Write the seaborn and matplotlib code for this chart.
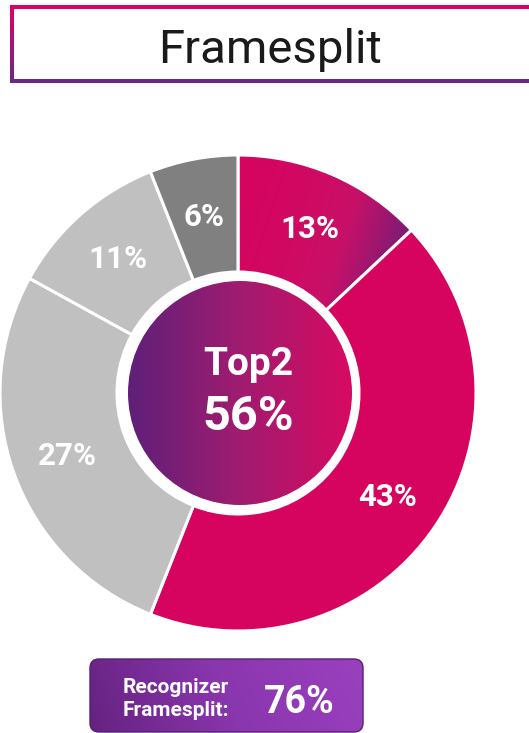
import numpy as np
import matplotlib
matplotlib.use("Agg")
import matplotlib.pyplot as plt
import seaborn as sns
from matplotlib.patches import Circle, FancyBboxPatch
from matplotlib.colors import LinearSegmentedColormap
from matplotlib.collections import LineCollection

# ---------------- data ----------------
title = "Framesplit"
slice_values = [13, 43, 27, 11, 6]
slice_colors = ["#D6045F", "#D6045F", "#C0C0C0", "#C0C0C0", "#808080"]
center_title = "Top2"
center_value = 56
footer_lines = ["Recognizer", "Framesplit:"]
footer_value = 76

PINK = "#D6045F"
PURPLE = "#5E2079"

sns.set_theme(style="white")
plt.rcParams['font.family'] = ['Roboto', 'DejaVu Sans']

W, H = 529, 733
fig = plt.figure(figsize=(W / 100, H / 100), dpi=100)
ax = fig.add_axes([0, 0, 1, 1])


def Y(y):
    return H - y


cx, cy, R = 238, Y(393), 238
hole = 121
wedges, texts, autotexts = ax.pie(
    slice_values, colors=slice_colors, startangle=90, counterclock=False,
    center=(cx, cy), radius=R, autopct=lambda p: f"{p:.0f}%", pctdistance=0.76,
    wedgeprops=dict(width=R - hole, edgecolor="white", linewidth=2.2),
    textprops=dict(color="white", fontsize=22.5, fontweight="bold"))
ax.set_xlim(0, W)
ax.set_ylim(0, H)
ax.set_aspect("equal")
ax.axis("off")
for t in autotexts:
    t.set_zorder(5)
    x, y = t.get_position()
    t.set_position((x, y - 2))

# gradient on first wedge
cm_w = LinearSegmentedColormap.from_list("w", [PINK, "#C81068", "#6A1F78"])
wedges[0].set_facecolor("none")
x0, x1, y0, y1 = 236, 420, Y(312), Y(150)
xs = np.linspace(x0, x1, 300)
ys = np.linspace(y0, y1, 300)
XX, YY = np.meshgrid(xs, ys)
tt = np.clip((XX - 240) / 175 * 0.85 + (Y(155) - YY) / 160 * 0.25, 0, 1) ** 1.5
im = ax.imshow(tt, extent=[x0, x1, y0, y1], origin="lower", cmap=cm_w,
               vmin=0, vmax=1, zorder=0.5, aspect="auto", interpolation="bilinear")
im.set_clip_path(wedges[0])

# center circle with horizontal gradient
ccx, ccy, cr = 240, Y(393), 112
circ = Circle((ccx, ccy), cr, facecolor="none", edgecolor="none", zorder=2)
ax.add_patch(circ)
cm_c = LinearSegmentedColormap.from_list("c", [PURPLE, "#A01C70", "#D80A62"])
g = np.linspace(0, 1, 300)[None, :].repeat(2, axis=0)
imc = ax.imshow(g, extent=[ccx - cr, ccx + cr, ccy - cr, ccy + cr], origin="lower",
                cmap=cm_c, zorder=2, aspect="auto", interpolation="bilinear")
imc.set_clip_path(circ)
ax.text(248, Y(375), center_title, color="white", fontsize=28, fontweight="bold",
        ha="center", va="baseline", zorder=6)
ax.text(248, Y(430), f"{center_value}%", color="white", fontsize=35, fontweight="bold",
        ha="center", va="baseline", zorder=6)

# title box with gradient border
top, bot, left = Y(7), Y(81), 12
lw = 2.9
ax.plot([left - 2, W + 10], [top, top], color="#DC0068", lw=lw, solid_capstyle="butt", zorder=3)
ax.plot([left - 2, W + 10], [bot, bot], color="#6A2A82", lw=lw, solid_capstyle="butt", zorder=3)
n = 60
yy = np.linspace(top, bot, n + 1)
segs = [[(left, yy[i]), (left, yy[i + 1])] for i in range(n)]
cm_b = LinearSegmentedColormap.from_list("b", ["#DC0068", "#6A2A82"])
lc = LineCollection(segs, colors=[cm_b(i / (n - 1)) for i in range(n)], linewidths=lw, zorder=3)
ax.add_collection(lc)
ax.text(270, Y(63), title, color="#1a1a1a", fontsize=34, ha="center", va="baseline")

# footer box
fx0, fx1, fy0, fy1 = 90, 363, Y(732), Y(659)
fb = FancyBboxPatch((fx0, fy0), fx1 - fx0, fy1 - fy0,
                    boxstyle="round,pad=0,rounding_size=9",
                    facecolor="none", edgecolor="#58206E", lw=1.0, zorder=3)
ax.add_patch(fb)
cm_f = LinearSegmentedColormap.from_list("f", ["#65227F", "#8A36AE", "#9A40BF"])
XF, YF = np.meshgrid(np.linspace(0, 1, 300), np.linspace(0, 1, 100))
tf = np.clip(XF * 0.9 + YF * 0.1, 0, 1)
imf = ax.imshow(tf, extent=[fx0, fx1, fy0, fy1], origin="lower", cmap=cm_f,
                zorder=2.5, aspect="auto", interpolation="bilinear")
imf.set_clip_path(fb)
ax.text(123, Y(693), footer_lines[0], color="white", fontsize=15, fontweight="bold",
        ha="left", va="baseline", zorder=6)
ax.text(123, Y(716), footer_lines[1], color="white", fontsize=15, fontweight="bold",
        ha="left", va="baseline", zorder=6)
ax.text(299, Y(713), f"{footer_value}%", color="white", fontsize=27, fontweight="bold",
        ha="center", va="baseline", zorder=6)

fig.savefig("out.png", dpi=100)
